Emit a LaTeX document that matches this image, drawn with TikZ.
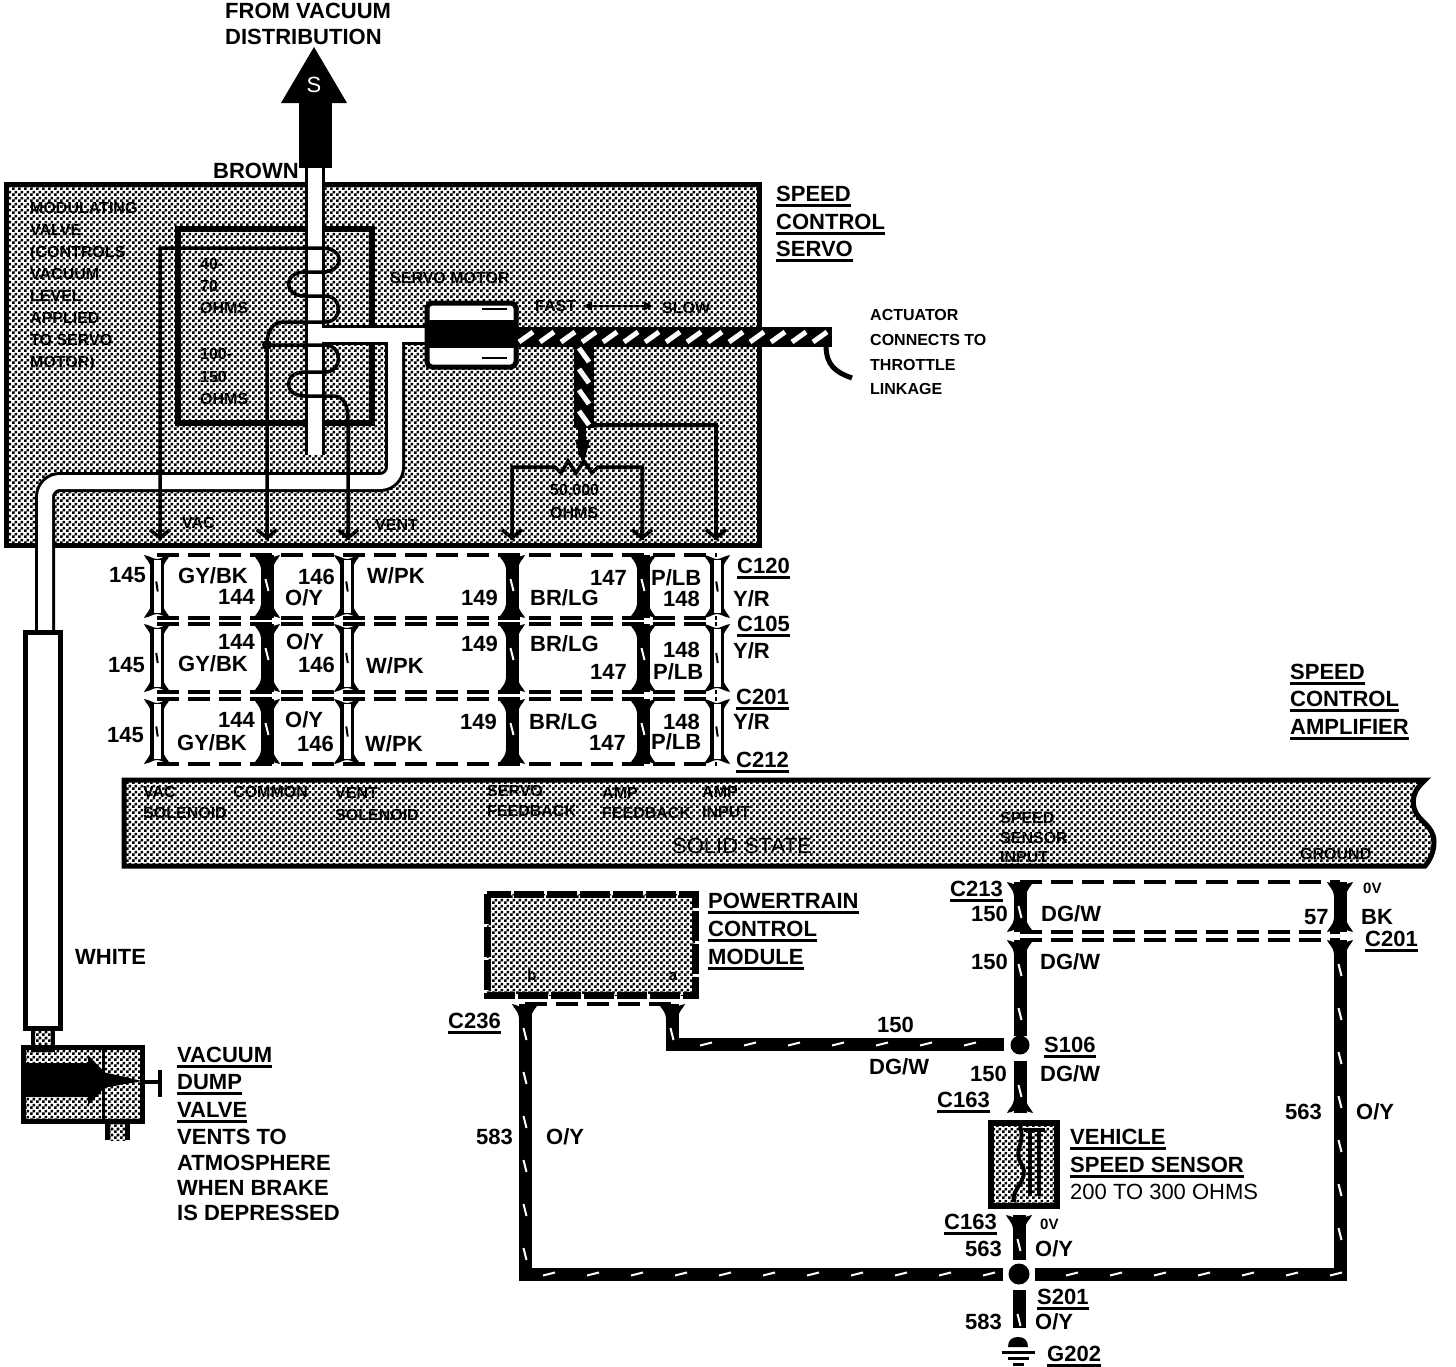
\documentclass[tikz,border=0pt]{standalone}
\usepackage{fontspec}
\setmainfont{Liberation Sans}
\usetikzlibrary{positioning}
\usetikzlibrary{patterns}
\usetikzlibrary{decorations.markings}
\usetikzlibrary{arrows.meta}

\pgfdeclarepatternformonly{halftone}{\pgfqpoint{0pt}{0pt}}{\pgfqpoint{6pt}{6pt}}{\pgfqpoint{6pt}{6pt}}{
  \pgfpathrectangle{\pgfqpoint{0pt}{0pt}}{\pgfqpoint{3pt}{3pt}}
  \pgfpathrectangle{\pgfqpoint{3pt}{3pt}}{\pgfqpoint{3pt}{3pt}}
  \pgfusepath{fill}
}

\newcommand{\ulbl}[1]{\setbox0\hbox{#1}\rlap{\rule[-5.5pt]{\wd0}{2.6pt}}\box0}

\tikzset{
  lbl/.style={anchor=west, inner sep=0pt, text height=15pt, text depth=0pt, font=\bfseries\fontsize{22}{24}\selectfont},
  tiny/.style={anchor=west, inner sep=0pt, text height=11pt, text depth=0pt, font=\bfseries\fontsize{16}{18}\selectfont},
  tinyb/.style={tiny, font=\bfseries\fontsize{15}{18}\selectfont},
  plain/.style={lbl, font=\fontsize{22}{24}\selectfont},
  shaded/.style={pattern=halftone, pattern color=black},
  boxline/.style={line width=5pt, draw=black, line join=miter},
  tubeout/.style={line width=20pt, draw=black, rounded corners=15pt},
  tubein/.style={line width=14pt, draw=white, rounded corners=15pt},
  thinwire/.style={line width=3.5pt, draw=black},
  pinwire/.style={thinwire, -{Straight Barb[length=8pt,width=20pt]}},
  conndash/.style={line width=4pt, dash pattern=on 22pt off 9pt},
  slashes/.style={postaction={decorate, decoration={markings,
     mark=between positions #1 and 1 step 44pt with {\draw[white, line width=2pt] (-6,1.5) -- (6,-1.5);}}}},
  slashes/.default=30pt,
  darkwire/.style={line width=13pt, draw=black, slashes},
  longwire/.style={line width=13pt, draw=black, slashes=30pt},
  lightwire/.style={line width=14pt, draw=black, shorten <=5pt, shorten >=5pt,
     postaction={draw=white, line width=7pt},
     postaction={decorate, decoration={markings,
     mark=at position 0.5 with {\draw[black, line width=2pt] (-10,1.5) -- (10,-1.5);}}}},
  rodwire/.style={line width=20pt, draw=black, postaction={decorate, decoration={markings,
     mark=between positions 10pt and 1 step 21pt with {\draw[white, line width=5pt] (-7,5) -- (7,-5);}}}},
  pics/forktop/.style={code={
     \fill[black] (-13,0) .. controls (-7,1) and (-4,4) .. (0,4) .. controls (4,4) and (7,1) .. (13,0)
        .. controls (11,5) and (7,6) .. (6,14) -- (-6,14) .. controls (-7,6) and (-11,5) .. cycle;
  }}
}

\begin{document}
\begin{tikzpicture}[x=1pt, y=-1pt]
\useasboundingbox (0,0) rectangle (1456,1366);

% servo
\draw[boxline, shaded] (6,184) rectangle (759,545);
\draw[line width=6pt] (178,229) rectangle (372,423);

% vacuum lines
\draw[tubeout] (315,168) -- (315,455);
\draw[tubeout] (315,335) -- (430,335);
\draw[tubeout] (395,335) -- (395,482) -- (45,482) -- (45,634);
\draw[tubein]  (315,168) -- (315,455);
\draw[tubein]  (315,335) -- (430,335);
\draw[tubein]  (395,335) -- (395,482) -- (45,482) -- (45,634);

% source arrow
\fill (299,102) rectangle (332,168);
\fill (281,103) -- (314,47) -- (347,103) -- cycle;
\node[plain, white, anchor=center] (S) at (314,85) {S};

% white hose and dump valve
\draw[boxline, fill=white] (25,632) rectangle (60,1028);
\draw[line width=4pt, shaded] (33,1028) rectangle (53,1050);
\draw[boxline, shaded] (23,1047) rectangle (142,1121);
\draw[line width=3pt] (103,1047) -- (103,1121);
\fill (25,1063) -- (88,1063) -- (88,1055) -- (112,1080) -- (88,1105) -- (88,1097) -- (25,1097) -- cycle;
\fill (103,1072) -- (142,1081) -- (103,1088) -- cycle;
\draw[line width=3.5pt] (142,1082) -- (160,1082);
\draw[line width=3.5pt] (160,1070) -- (160,1097);
\fill[pattern=halftone] (109,1122) rectangle (125,1140);
\draw[line width=5pt] (107.5,1121) -- (107.5,1140);
\draw[line width=5pt] (127,1121) -- (127,1140);

% coils
\coordinate (vacS) at (160,540);
\coordinate (comS) at (267,540);
\coordinate (venS) at (348,540);
\coordinate (feedA) at (512,540);
\coordinate (feedB) at (642,540);
\coordinate (ampS) at (716,540);
\draw[thinwire] (vacS) -- (160,248) -- (322,248) .. controls (345,248) and (345,272) .. (322,272)
   -- (305,272) .. controls (283,272) and (283,296) .. (305,296)
   -- (325,296) .. controls (343,296) and (343,322) .. (325,322)
   -- (283,322) .. controls (272,322) and (267,332) .. (267,345) -- (comS);
\draw[thinwire] (267,345) -- (325,345) .. controls (343,345) and (343,372) .. (325,372)
   -- (305,372) .. controls (283,372) and (283,396) .. (305,396)
   -- (333,396) .. controls (344,396) and (348,405) .. (348,420) -- (venS);
\fill (267,345) circle (5pt);
\draw[pinwire] (160,530) -- (vacS);
\draw[pinwire] (267,530) -- (comS);
\draw[pinwire] (348,530) -- (venS);

% motor and actuator
\draw[line width=5pt, fill=white, rounded corners=5pt] (427,303) rectangle (516,367);
\fill (427,320) rectangle (516,348);
\draw[line width=2pt] (482,309) -- (507,309);
\draw[line width=2pt] (482,358) -- (507,358);
\draw[rodwire] (516,337) -- (832,337);
\draw[rodwire] (584,428) -- (584,345);
\draw[line width=5pt] (826,345) .. controls (826,365) and (835,372) .. (852,378);
\draw[line width=8pt] (582,425) -- (582,455);
\fill (575,440) -- (590,440) -- (583,465) -- cycle;

% feedback
\draw[thinwire] (feedA) -- (512,467) -- (555,467) -- (561,473) -- (568,461) -- (576,473) -- (584,461) -- (592,473) -- (598,467) -- (642,467) -- (feedB);
\draw[thinwire] (594,425) -- (716,425) -- (ampS);
\draw[pinwire] (512,530) -- (feedA);
\draw[pinwire] (642,530) -- (feedB);
\draw[pinwire] (716,530) -- (ampS);
\draw[thinwire, <->, >={Latex[length=10pt,width=10pt]}, line width=2.5pt] (582,306) -- (654,306);

% harness
\foreach \n/\x in {a/157,b/267,c/347,d/512,e/643,f/717} {
  \coordinate (\n1) at (\x,555);
  \coordinate (\n2) at (\x,618);
  \coordinate (\n3) at (\x,624);
  \coordinate (\n4) at (\x,692);
  \coordinate (\n5) at (\x,699);
  \coordinate (\n6) at (\x,764);
  \pic at (\n1) {forktop};
  \pic[yscale=-1] at (\n2) {forktop};
  \pic at (\n3) {forktop};
  \pic[yscale=-1] at (\n4) {forktop};
  \pic at (\n5) {forktop};
  \pic[yscale=-1] at (\n6) {forktop};
}
\foreach \n in {b,d,e} {
  \draw[darkwire] (\n1) -- (\n2);
  \draw[darkwire] (\n3) -- (\n4);
  \draw[darkwire] (\n5) -- (\n6);
}
\foreach \n in {a,c,f} {
  \draw[lightwire] (\n1) -- (\n2);
  \draw[lightwire] (\n3) -- (\n4);
  \draw[lightwire] (\n5) -- (\n6);
}
\draw[conndash] (a1) -- (f1);
\draw[conndash] (a2) -- (f2);
\draw[conndash] (a3) -- (f3);
\draw[conndash] (a4) -- (f4);
\draw[conndash] (a5) -- (f5);
\draw[conndash] (a6) -- (f6);

% amplifier
\draw[boxline, shaded] (1425,780) -- (124,780) -- (124,866) -- (1425,866)
   .. controls (1430,860) and (1434,852) .. (1434,842) .. controls (1434,825) and (1418,822) .. (1414,808)
   .. controls (1412,798) and (1414,790) .. cycle;

% pcm
\draw[line width=7pt, dash pattern=on 30pt off 3pt, shaded] (487,894) rectangle (695,995);
\coordinate (pcmA) at (525,1004);
\coordinate (pcmB) at (672,1004);
\pic at (pcmA) {forktop};
\pic at (pcmB) {forktop};
\draw[conndash] (pcmA) -- (pcmB);
\node[tinyb, anchor=center] (pinB) at (532,975) {b};
\node[tinyb, anchor=center] (pinA) at (673,975) {a};

% sensor side
\coordinate (s1) at (1020,882);
\coordinate (s2) at (1020,932);
\coordinate (s3) at (1020,940);
\coordinate (s4) at (1020,1036);
\node[circle, fill=black, inner sep=0pt, minimum size=19pt] (S106) at (1020,1045) {};
\coordinate (s5) at (1020,1061);
\coordinate (s6) at (1020,1113);
\coordinate (s7) at (1019,1215);
\coordinate (s8) at (1019,1260);
\node[circle, fill=black, inner sep=0pt, minimum size=21pt] (S201) at (1019,1274) {};
\coordinate (s9) at (1019,1290);
\coordinate (s10) at (1019,1328);
\coordinate (g1) at (1340,882);
\coordinate (g2) at (1340,932);
\coordinate (g3) at (1340,940);
\coordinate (g4) at (1340,1274);
\coordinate (j1) at (525,1274);
\coordinate (j2) at (1003,1274);
\coordinate (j3) at (1035,1274);
\coordinate (j4) at (672,1044);
\coordinate (j5) at (1004,1044);
\pic at (s1) {forktop};
\pic[yscale=-1] at (s2) {forktop};
\pic at (s3) {forktop};
\pic[yscale=-1] at (s6) {forktop};
\pic at (s7) {forktop};
\pic at (g1) {forktop};
\pic[yscale=-1] at (g2) {forktop};
\pic at (g3) {forktop};
\draw[darkwire] (s1) -- (s2);
\draw[darkwire] (s3) -- (s4);
\draw[darkwire] (s5) -- (s6);
\draw[darkwire] (s7) -- (s8);
\draw[darkwire] (s9) -- (s10);
\draw[line width=13pt] (g1) -- (g2);
\draw[longwire, line join=miter] (g3) -- (g4) -- (j3);
\draw[longwire, line join=miter] (pcmA) -- (j1) -- (j2);
\draw[longwire, line join=miter] (pcmB) -- (j4) -- (j5);
\draw[conndash] (s1) -- (g1);
\draw[conndash] (s2) -- (g2);
\draw[conndash] (s3) -- (g3);

% vehicle speed sensor
\draw[line width=6pt, shaded] (991,1123) rectangle (1057,1206);
\draw[line width=4pt] (1020,1126) .. controls (1026,1145) and (1012,1150) .. (1022,1165) .. controls (1030,1180) and (1010,1190) .. (1014,1202);
\draw[line width=3.5pt] (1024,1130) -- (1045,1130);
\draw[line width=4pt] (1030,1130) -- (1030,1196);
\draw[line width=4pt] (1039,1132) -- (1039,1196);

% ground
\fill (1008,1347) .. controls (1008,1340) and (1012,1337) .. (1018,1337) .. controls (1024,1337) and (1028,1340) .. (1028,1347) -- cycle;
\draw[line width=3pt] (1002,1352) -- (1035,1352);
\draw[line width=3pt] (1008,1358) -- (1029,1358);
\draw[line width=3pt] (1013,1364) -- (1024,1364);

% labels top
\node[lbl] (from1)   at (225,11)  {FROM VACUUM};
\node[lbl] (from2)   at (225,37)  {DISTRIBUTION};
\node[lbl] (brown)   at (213,171) {BROWN};
\node[lbl] (spd1)    at (776,194) {\ulbl{SPEED}};
\node[lbl] (spd2)    at (776,222) {\ulbl{CONTROL}};
\node[lbl] (spd3)    at (776,249) {\ulbl{SERVO}};
\node[tiny] (mod1)   at (30,208)  {MODULATING};
\node[tiny] (mod2)   at (30,230)  {VALVE};
\node[tiny] (mod3)   at (30,252)  {(CONTROLS};
\node[tiny] (mod4)   at (30,274)  {VACUUM};
\node[tiny] (mod5)   at (30,296)  {LEVEL};
\node[tiny] (mod6)   at (30,318)  {APPLIED};
\node[tiny] (mod7)   at (30,340)  {TO SERVO};
\node[tiny] (mod8)   at (30,362)  {MOTOR)};
\node[tiny] (ohm1)   at (200,264) {40-};
\node[tiny] (ohm2)   at (200,286) {70};
\node[tiny] (ohm3)   at (200,308) {OHMS};
\node[tiny] (ohm4)   at (200,354) {100-};
\node[tiny] (ohm5)   at (200,377) {150};
\node[tiny] (ohm6)   at (200,399) {OHMS};
\node[tiny] (motor)  at (390,278) {SERVO MOTOR};
\node[tiny] (fast)   at (535,306) {FAST};
\node[tiny] (slow)   at (662,308) {SLOW};
\node[tiny] (vac)    at (182,523) {VAC};
\node[tiny] (vent)   at (375,525) {VENT};
\node[tiny] (res1)   at (550,490) {50,000};
\node[tiny] (res2)   at (550,513) {OHMS};
\node[tiny] (act1)   at (870,315) {ACTUATOR};
\node[tiny] (act2)   at (870,340) {CONNECTS TO};
\node[tiny] (act3)   at (870,365) {THROTTLE};
\node[tiny] (act4)   at (870,389) {LINKAGE};

% labels harness
\node[lbl] (a145)  at (109,575) {145};
\node[lbl] (agybk) at (178,576) {GY/BK};
\node[lbl] (a144)  at (218,597) {144};
\node[lbl] (a146)  at (298,577) {146};
\node[lbl] (aoy)   at (285,598) {O/Y};
\node[lbl] (awpk)  at (367,576) {W/PK};
\node[lbl] (a149)  at (461,598) {149};
\node[lbl] (a147)  at (590,578) {147};
\node[lbl] (abrlg) at (530,598) {BR/LG};
\node[lbl] (aplb)  at (651,578) {P/LB};
\node[lbl] (a148)  at (663,599) {148};
\node[lbl] (ayr)   at (733,599) {Y/R};
\node[lbl] (c120)  at (737,566) {\ulbl{C120}};
\node[lbl] (c105)  at (737,624) {\ulbl{C105}};
\node[lbl] (b145)  at (108,665) {145};
\node[lbl] (b144)  at (218,642) {144};
\node[lbl] (bgybk) at (178,664) {GY/BK};
\node[lbl] (boy)   at (286,642) {O/Y};
\node[lbl] (b146)  at (298,665) {146};
\node[lbl] (bwpk)  at (366,666) {W/PK};
\node[lbl] (b149)  at (461,644) {149};
\node[lbl] (bbrlg) at (530,644) {BR/LG};
\node[lbl] (b147)  at (590,672) {147};
\node[lbl] (b148)  at (663,650) {148};
\node[lbl] (bplb)  at (653,672) {P/LB};
\node[lbl] (byr)   at (733,651) {Y/R};
\node[lbl] (c201)  at (736,697) {\ulbl{C201}};
\node[lbl] (c145)  at (107,735) {145};
\node[lbl] (c144)  at (218,720) {144};
\node[lbl] (cgybk) at (177,743) {GY/BK};
\node[lbl] (coy)   at (285,720) {O/Y};
\node[lbl] (c146)  at (297,744) {146};
\node[lbl] (cwpk)  at (365,744) {W/PK};
\node[lbl] (c149)  at (460,722) {149};
\node[lbl] (cbrlg) at (529,722) {BR/LG};
\node[lbl] (c147)  at (589,743) {147};
\node[lbl] (c148)  at (663,722) {148};
\node[lbl] (cplb)  at (651,742) {P/LB};
\node[lbl] (cyr)   at (733,722) {Y/R};
\node[lbl] (c212)  at (736,760) {\ulbl{C212}};

% labels amplifier
\node[lbl] (amp1)  at (1290,672) {\ulbl{SPEED}};
\node[lbl] (amp2)  at (1290,699) {\ulbl{CONTROL}};
\node[lbl] (amp3)  at (1290,727) {\ulbl{AMPLIFIER}};
\node[tiny] (in1)  at (143,792)  {VAC};
\node[tiny] (in2)  at (143,813)  {SOLENOID};
\node[tiny] (in3)  at (233,792)  {COMMON};
\node[tiny] (in4)  at (335,793)  {VENT};
\node[tiny] (in5)  at (335,815)  {SOLENOID};
\node[tiny] (in6)  at (487,791)  {SERVO};
\node[tiny] (in7)  at (487,811)  {FEEDBACK};
\node[tiny] (in8)  at (602,793)  {AMP};
\node[tiny] (in9)  at (602,813)  {FEEDBACK};
\node[tiny] (in10) at (702,792)  {AMP};
\node[tiny] (in11) at (702,812)  {INPUT};
\node[plain] (in12) at (672,846) {SOLID STATE};
\node[tiny] (in13) at (1000,818) {SPEED};
\node[tiny] (in14) at (1000,838) {SENSOR};
\node[tiny] (in15) at (1000,857) {INPUT};
\node[tiny] (in16) at (1300,854) {GROUND};

% labels lower
\node[lbl] (pcm1)  at (708,901)  {\ulbl{POWERTRAIN}};
\node[lbl] (pcm2)  at (708,929)  {\ulbl{CONTROL}};
\node[lbl] (pcm3)  at (708,957)  {\ulbl{MODULE}};
\node[lbl] (white) at (75,957)   {WHITE};
\node[lbl] (vdv1)  at (177,1055) {\ulbl{VACUUM}};
\node[lbl] (vdv2)  at (177,1082) {\ulbl{DUMP}};
\node[lbl] (vdv3)  at (177,1110) {\ulbl{VALVE}};
\node[lbl] (vdv4)  at (177,1137) {VENTS TO};
\node[lbl] (vdv5)  at (177,1163) {ATMOSPHERE};
\node[lbl] (vdv6)  at (177,1188) {WHEN BRAKE};
\node[lbl] (vdv7)  at (177,1213) {IS DEPRESSED};
\node[lbl] (c236)  at (448,1021) {\ulbl{C236}};
\node[lbl] (l583a) at (476,1137) {583};
\node[lbl] (oya)   at (546,1137) {O/Y};
\node[lbl] (l150a) at (877,1025) {150};
\node[lbl] (dga)   at (869,1067) {DG/W};
\node[lbl] (c213)  at (950,889)  {\ulbl{C213}};
\node[lbl] (l150b) at (971,914)  {150};
\node[lbl] (dgb)   at (1041,914) {DG/W};
\node[lbl] (l57)   at (1304,917) {57};
\node[lbl] (bk)    at (1361,917) {BK};
\node[tinyb] (v0a) at (1363,888) {0V};
\node[lbl] (c201b) at (1365,939) {\ulbl{C201}};
\node[lbl] (l150c) at (971,962)  {150};
\node[lbl] (dgc)   at (1040,962) {DG/W};
\node[lbl] (s106)  at (1044,1045) {\ulbl{S106}};
\node[lbl] (l150d) at (970,1074) {150};
\node[lbl] (dgd)   at (1040,1074) {DG/W};
\node[lbl] (c163a) at (937,1100) {\ulbl{C163}};
\node[lbl] (l563b) at (1285,1112) {563};
\node[lbl] (oyb)   at (1356,1112) {O/Y};
\node[lbl] (vss1)  at (1070,1137) {\ulbl{VEHICLE}};
\node[lbl] (vss2)  at (1070,1165) {\ulbl{SPEED SENSOR}};
\node[plain] (vss3) at (1070,1192) {200 TO 300 OHMS};
\node[lbl] (c163b) at (944,1222) {\ulbl{C163}};
\node[tinyb] (v0b) at (1040,1224) {0V};
\node[lbl] (l563c) at (965,1249) {563};
\node[lbl] (oyc)   at (1035,1249) {O/Y};
\node[lbl] (s201)  at (1037,1297) {\ulbl{S201}};
\node[lbl] (l583)  at (965,1322) {583};
\node[lbl] (oyd)   at (1035,1322) {O/Y};
\node[lbl] (g202)  at (1047,1354) {\ulbl{G202}};
\end{tikzpicture}
\end{document}
